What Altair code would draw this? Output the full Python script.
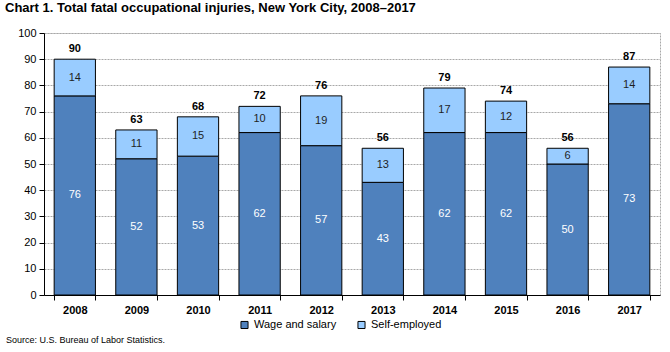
import altair as alt
import pandas as pd

years = ["2008", "2009", "2010", "2011", "2012", "2013", "2014", "2015", "2016", "2017"]
wage = [76, 52, 53, 62, 57, 43, 62, 62, 50, 73]
selfemp = [14, 11, 15, 10, 19, 13, 17, 12, 6, 14]
series = ["Wage and salary", "Self-employed"]

rows = []
for y, w, s in zip(years, wage, selfemp):
    rows.append({"year": y, "series": series[0], "value": w, "order": 0, "mid": w / 2})
    rows.append({"year": y, "series": series[1], "value": s, "order": 1, "mid": w + s / 2})
df = pd.DataFrame(rows)
tot = pd.DataFrame({"year": years, "total": [w + s for w, s in zip(wage, selfemp)]})
src = pd.DataFrame({"t": ["Source: U.S. Bureau of Labor Statistics."]})

FONT = "Liberation Sans"

xaxis = alt.Axis(labelAngle=0, labelFontSize=11, labelFontWeight="bold", labelFont=FONT,
                 labelColor="#000", domainColor="#000", tickColor="#000", tickSize=5,
                 tickBand="extent", labelPadding=4)
xscale = alt.Scale(paddingInner=0.33, paddingOuter=0.165)
yaxis = alt.Axis(values=list(range(0, 101, 10)), labelFontSize=11, labelFont=FONT,
                 labelColor="#000", domainColor="#000", tickColor="#000", tickSize=5,
                 grid=True, gridColor="#a8a8a8", gridDash=[2, 1], labelPadding=3)
yscale = alt.Scale(domain=[0, 100], nice=False)

bars = alt.Chart(df).mark_bar(stroke="#000", strokeWidth=1).encode(
    x=alt.X("year:N", title=None, sort=years, scale=xscale, axis=xaxis),
    y=alt.Y("value:Q", stack="zero", title=None, scale=yscale, axis=yaxis),
    color=alt.Color("series:N", sort=series,
                    scale=alt.Scale(domain=series, range=["#4f81bd", "#99ccff"]),
                    legend=alt.Legend(title=None, orient="none", legendX=195, legendY=286,
                                      direction="horizontal", symbolType="square",
                                      symbolSize=50, symbolStrokeColor="#000", symbolStrokeWidth=1,
                                      labelFont=FONT, labelFontSize=11, labelColor="#000",
                                      columnPadding=18)),
    order=alt.Order("order:Q"),
)

seglabels = alt.Chart(df).mark_text(font=FONT, fontSize=11, baseline="middle").encode(
    x=alt.X("year:N", title=None, sort=years, scale=xscale, axis=xaxis),
    y=alt.Y("mid:Q", title=None, scale=yscale, axis=yaxis),
    text=alt.Text("value:Q"),
    color=alt.Color("series:N", sort=series,
                    scale=alt.Scale(domain=series, range=["#ffffff", "#1f1f1f"]), legend=None),
)

totals = alt.Chart(tot).mark_text(font=FONT, fontSize=11, fontWeight="bold", dy=-10, color="#000").encode(
    x=alt.X("year:N", title=None, sort=years, scale=xscale, axis=xaxis),
    y=alt.Y("total:Q", title=None, scale=yscale, axis=yaxis),
    text=alt.Text("total:Q"),
)

source = alt.Chart(src).mark_text(font=FONT, fontSize=9, align="left", baseline="middle", color="#000").encode(
    x=alt.value(-38), y=alt.value(307), text="t:N"
)

chart = alt.layer(bars, seglabels, totals, source).resolve_scale(color="independent").properties(
    width=616, height=262,
    autosize=alt.AutoSizeParams(type="none"),
    padding={"left": 44, "top": 33, "right": 10, "bottom": 57},
    title=alt.TitleParams("Chart 1. Total fatal occupational injuries, New York City, 2008–2017",
                          anchor="start", frame="group", font=FONT, fontSize=13, fontWeight="bold",
                          color="#000", dx=-39, offset=12),
).configure_view(stroke="#a8a8a8", strokeDash=[2, 1])

chart.save("out.html", embed_options={"renderer": "svg", "actions": False})
